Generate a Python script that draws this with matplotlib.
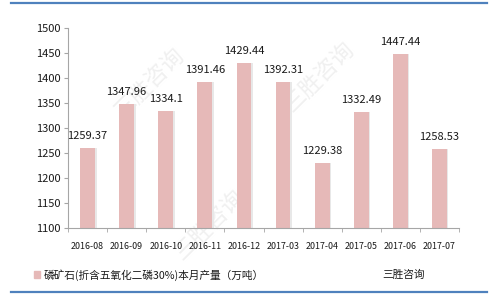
import matplotlib
matplotlib.use('Agg')
import matplotlib.pyplot as plt
from matplotlib.lines import Line2D
import numpy as np

plt.rcParams['font.family'] = ['Noto Sans CJK SC', 'DejaVu Sans']

months = ['2016-08', '2016-09', '2016-10', '2016-11', '2016-12',
          '2017-03', '2017-04', '2017-05', '2017-06', '2017-07']
output = [1259.37, 1347.96, 1334.1, 1391.46, 1429.44,
          1392.31, 1229.38, 1332.49, 1447.44, 1258.53]
labels = ['1259.37', '1347.96', '1334.1', '1391.46', '1429.44',
          '1392.31', '1229.38', '1332.49', '1447.44', '1258.53']
series_name = '磷矿石(折含五氧化二磷30%)本月产量（万吨）'
source = '三胜咨询'

bar_color = '#E6B9B8'
line_blue = '#4F81BD'
axis_gray = '#A6A6A6'

fig = plt.figure(figsize=(5, 2.97), dpi=100)

# faint watermark behind everything
for wx, wy in [(0.30, 0.72), (0.64, 0.74), (0.42, 0.24)]:
    fig.text(wx, wy, '三胜咨询', fontsize=16, rotation=45, color='#F0F0F0',
             ha='center', va='center', zorder=-5)

ax = fig.add_axes([0.136, 0.232, 0.782, 0.674])
ax.set_facecolor('none')

x = np.arange(len(months))
# light shadow behind bars
ax.bar(x + 0.04, np.array(output) - 1100, bottom=1100, width=0.38,
       color='#E8E8E8', zorder=1)
ax.bar(x, np.array(output) - 1100, bottom=1100, width=0.38,
       color=bar_color, zorder=2)

for xi, v, t in zip(x, output, labels):
    ax.text(xi, v + 14, t, ha='center', va='bottom', fontsize=8,
            color='#1a1a1a', zorder=3)

ax.set_xlim(-0.5, len(months) - 0.5)
ax.set_ylim(1100, 1500)
ax.set_yticks(range(1100, 1501, 50))
ax.tick_params(axis='y', labelsize=8, length=3, color=axis_gray,
               pad=2, labelcolor='#1a1a1a')
ax.set_xticks(x)
ax.set_xticklabels(months, fontsize=6.4, color='#1a1a1a')
ax.set_xticks(np.arange(-0.5, len(months), 1), minor=True)
ax.tick_params(axis='x', which='major', length=0, pad=10)
ax.tick_params(axis='x', which='minor', length=3, color=axis_gray)

for s in ['top', 'right']:
    ax.spines[s].set_visible(False)
for s in ['left', 'bottom']:
    ax.spines[s].set_color(axis_gray)
    ax.spines[s].set_linewidth(0.8)

# legend-like entry
fig.patches.append(plt.Rectangle((0.068, 0.064), 0.011, 0.022,
                                 transform=fig.transFigure,
                                 color=bar_color))
fig.text(0.088, 0.074, series_name, fontsize=7.7, va='center',
         color='#1a1a1a')
fig.text(0.764, 0.074, source, fontsize=7.7, va='center', color='#1a1a1a')

# frame lines top and bottom
fig.add_artist(Line2D([0.022, 0.974], [0.989, 0.989], color=line_blue,
                      lw=1.6, transform=fig.transFigure))
fig.add_artist(Line2D([0.022, 0.974], [0.018, 0.018], color=line_blue,
                      lw=1.6, transform=fig.transFigure))

fig.savefig('out.png', dpi=100)
